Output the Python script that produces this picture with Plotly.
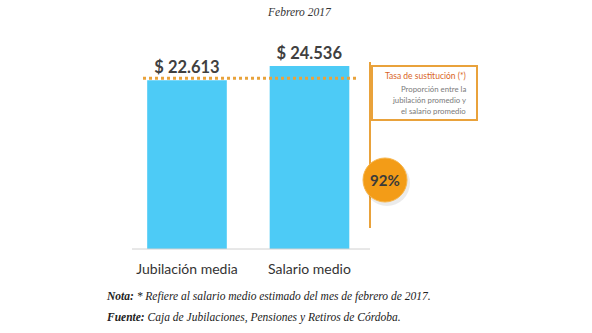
import plotly.graph_objects as go

categories = ["Jubilación media", "Salario medio"]
values = [22613, 24536]
value_labels = ["$ 22.613", "$ 24.536"]
title_text = "Febrero 2017"
box_title = "Tasa de sustitución (*)"
box_lines = ["Proporción entre la", "jubilación promedio y", "el salario promedio"]
nota = "<b>Nota:</b> * Refiere al salario medio estimado del mes de febrero de 2017."
fuente = "<b>Fuente:</b> Caja de Jubilaciones, Pensiones y Retiros de Córdoba."

W, H = 592, 333
ratio = values[0] / values[1]

def px(x):
    return x / W

def py(y):
    return 1 - y / H

ORANGE = "#E9A23B"
BLUE = "#4DCBF6"

fig = go.Figure()
fig.add_trace(go.Bar(
    x=categories, y=values, text=value_labels, textposition="outside",
    texttemplate="<b>%{text}</b>",
    textfont=dict(family="Lato", size=16.5, color="#404040"),
    marker=dict(color=BLUE, line=dict(width=0)), width=0.65,
    cliponaxis=False, hoverinfo="skip",
))

fig.update_layout(
    width=W, height=H, margin=dict(l=0, r=0, t=0, b=0),
    paper_bgcolor="white", plot_bgcolor="white", showlegend=False,
    xaxis=dict(domain=[px(132), px(370)], range=[-0.449, 1.494],
               showgrid=False, zeroline=False, showline=False,
               ticks="", ticklabelstandoff=10,
               tickfont=dict(family="Lato", size=14, color="#333333")),
    yaxis=dict(domain=[py(249), py(40)], range=[0, 209 * 134],
               showgrid=False, zeroline=False, showticklabels=False, showline=False),
    bargap=0.3,
)

shapes = []
shapes.append(dict(type="line", xref="paper", yref="paper", x0=px(132), x1=px(370),
                   y0=py(249), y1=py(249), line=dict(color="#D0D0D0", width=1)))
shapes.append(dict(type="line", xref="paper", yref="y", x0=px(143), x1=px(356),
                   y0=values[0] * 1.012, y1=values[0] * 1.012,
                   line=dict(color=ORANGE, width=3, dash="dot")))
shapes.append(dict(type="line", xref="paper", yref="paper", x0=px(370), x1=px(370),
                   y0=py(62), y1=py(228), line=dict(color=ORANGE, width=2)))
shapes.append(dict(type="rect", xref="paper", yref="paper", x0=px(372), x1=px(477),
                   y0=py(120), y1=py(66), line=dict(color=ORANGE, width=2),
                   fillcolor="white"))
shapes.append(dict(type="circle", xref="paper", yref="paper", x0=px(364), x1=px(410),
                   y0=py(206), y1=py(160), line=dict(width=0), fillcolor="rgba(0,0,0,0.08)"))
shapes.append(dict(type="circle", xref="paper", yref="paper", x0=px(363), x1=px(407),
                   y0=py(202), y1=py(158), line=dict(color="#F7B54A", width=1),
                   fillcolor="#F39C17"))
fig.update_layout(shapes=shapes)

ann = []
def add(text, x, y, size, color, family="Lato", xanchor="center"):
    ann.append(dict(text=text, x=px(x), y=py(y), xref="paper", yref="paper",
                    xanchor=xanchor, yanchor="middle", showarrow=False,
                    font=dict(family=family, size=size, color=color)))

add(f"<i>{title_text}</i>", 299, 12, 11.5, "#333333", family="Liberation Serif")
add(box_title, 468, 76, 8.5, "#D9651E", xanchor="right")
for i, line in enumerate(box_lines):
    add(line, 468, 89 + 11 * i, 7.8, "#7A7A7A", xanchor="right")
add(f"<b>{round(ratio * 100)}%</b>", 385, 180, 15, "#3A3A3A")
add(f"<i>{nota}</i>", 104, 296, 11.5, "#222222", family="Liberation Serif", xanchor="left")
add(f"<i>{fuente}</i>", 104, 317, 11.5, "#222222", family="Liberation Serif", xanchor="left")
fig.update_layout(annotations=ann)

fig.write_html("out.html")
